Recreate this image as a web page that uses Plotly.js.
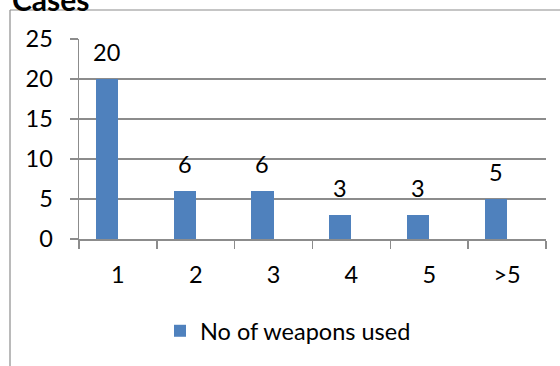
<!DOCTYPE html>
<html>
<head>
<meta charset="utf-8">
<script src="https://cdn.plot.ly/plotly-3.0.1.min.js"></script>
<style>html,body{margin:0;padding:0;background:#fff;}#chart{width:560px;height:366px;}</style>
</head>
<body>
<div id="chart"></div>
<script>
const categories = ["1", "2", "3", "4", "5", ">5"];
const values = [20, 6, 6, 3, 3, 5];
const seriesName = "No of weapons used";
const chartTitle = "Cases";
const yTicks = [0, 5, 10, 15, 20, 25];

const FONT = "Lato, 'Open Sans', sans-serif";
const FS = 23.5;
const GRID = "#8c8c8c";
const BARW = 0.285;

const trace = {
  type: "bar",
  x: categories,
  y: values,
  name: seriesName,
  width: BARW,
  offset: -BARW,
  marker: {color: "#4F81BD"},
  hoverinfo: "none"
};

const annotations = values.map((v, i) => ({
  xref: "x", yref: "y",
  x: i - BARW / 2, y: v,
  text: String(v),
  showarrow: false,
  xanchor: "center", yanchor: "bottom",
  yshift: 11,
  font: {family: FONT, size: FS, color: "#000"}
}));

annotations.push({
  xref: "paper", yref: "paper",
  x: (10 - 79) / 467, y: (239 - 19) / 200,
  xanchor: "left", yanchor: "bottom",
  text: "<b>" + chartTitle + "</b>",
  showarrow: false,
  font: {family: FONT, size: 30, color: "#000"}
});

const layout = {
  width: 560, height: 366,
  margin: {l: 79, r: 14, t: 39, b: 127},
  paper_bgcolor: "#fff", plot_bgcolor: "#fff",
  showlegend: true,
  legend: {
    orientation: "h",
    x: (160 - 79) / 467, y: (239 - 331) / 200,
    xanchor: "left", yanchor: "middle",
    font: {family: FONT, size: FS, color: "#000"}
  },
  xaxis: {
    type: "category",
    tickson: "boundaries",
    ticks: "outside", ticklen: 8, tickcolor: GRID, tickwidth: 1.5,
    showline: true, linecolor: GRID, linewidth: 1.5,
    showgrid: false,
    tickfont: {family: FONT, size: FS, color: "#000"},
    ticklabelstandoff: 14,
    fixedrange: true
  },
  yaxis: {
    range: [0, 25],
    tickvals: yTicks,
    ticks: "outside", ticklen: 8, tickcolor: GRID, tickwidth: 1.5,
    showline: true, linecolor: GRID, linewidth: 1.5,
    showgrid: true, gridcolor: GRID, gridwidth: 1.5,
    zeroline: false,
    tickfont: {family: FONT, size: FS, color: "#000"},
    ticklabelstandoff: 12,
    fixedrange: true
  },
  annotations: annotations,
  shapes: [
    {type: "line", xref: "paper", yref: "paper", x0: (10 - 79) / 467, x1: (562 - 79) / 467, y0: (239 - 10) / 200, y1: (239 - 10) / 200, line: {color: GRID, width: 1.2}},
    {type: "line", xref: "paper", yref: "paper", x0: (10 - 79) / 467, x1: (10 - 79) / 467, y0: (239 - 10) / 200, y1: (239 - 370) / 200, line: {color: GRID, width: 1.2}}
  ],
  bargap: 0
};

Plotly.newPlot("chart", [trace], layout, {staticPlot: true, displayModeBar: false});
</script>
</body>
</html>
